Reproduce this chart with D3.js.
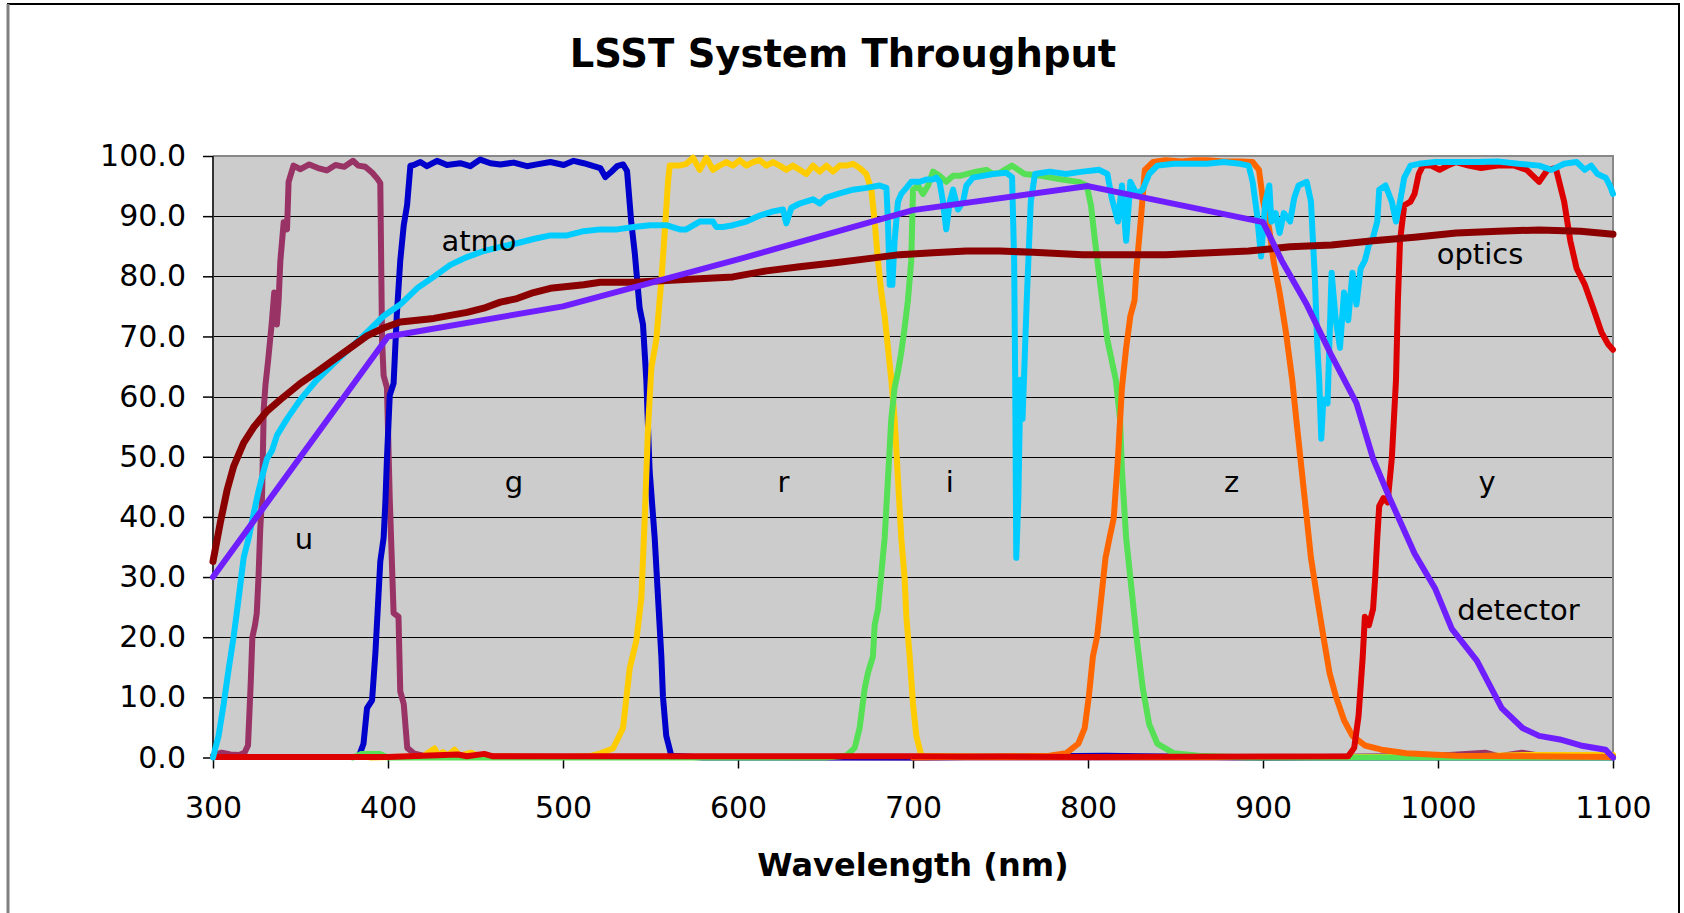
<!DOCTYPE html>
<html>
<head>
<meta charset="utf-8">
<script src="https://cdn.jsdelivr.net/npm/d3@7"></script>
<style>
  body { margin: 0; background: #fff; }
  svg { display: block; font-family: "DejaVu Sans", Verdana, sans-serif; }
  .grid line { stroke: #000; stroke-width: 1; shape-rendering: crispEdges; }
  .grid path { display: none; }
  .axis path { display: none; }
  .axis line { stroke: #000; stroke-width: 1.5; }
  .axis text { font-family: "DejaVu Sans", Verdana, sans-serif; font-size: 30px; fill: #000; }
  .band { fill: none; stroke-linejoin: round; stroke-linecap: round; }
  .label { font-size: 29px; fill: #000; text-anchor: middle; }
</style>
</head>
<body>
<svg width="1684" height="913"></svg>
<script>
// wavelength (nm), throughput (%)
const uBand = [[300,0.3],[305,0.8],[310,0.5],[315,0.4],[318,0.8],[320,2],[321.5,12],[322.5,20],[324,22],[325,24],[326,30],[327,38],[328,43],[329,58],[330,62],[331.5,66],[333.5,72],[335,77.3],[336.5,72],[337.5,76],[338.5,82.6],[340.4,89],[342.3,87.8],[343.2,95.7],[346,98.4],[350,97.8],[355,98.6],[360,98],[365,97.6],[370,98.5],[375,98.2],[380,99.2],[383,98.4],[387,98.2],[391,97.2],[394,96.2],[395.6,95.5],[396.6,69.4],[397.5,63.5],[399.4,61.5],[401,43],[403.2,24],[406,23.4],[407,11],[409,8.9],[411,1.6],[414.7,0.7],[420,0.3],[440,0.2],[500,0.1],[600,0.1],[700,0],[900,0],[1000,0.3],[1027,0.8],[1035,0.2],[1048,0.8],[1060,0.2],[1100,0.1]];
const gBand = [[384,0.7],[386,2.3],[388,8.2],[390.9,9.5],[392.8,17.4],[395.6,32.6],[397.5,36.5],[398.5,42.4],[399.4,49.7],[401,60.2],[403.2,62.2],[405,73.4],[407,82.6],[409,88.5],[410.9,91.8],[412.8,98.4],[414.7,98.5],[418.5,99.0],[422.3,98.3],[428,99.2],[433.7,98.5],[441.3,98.8],[447,98.3],[452.7,99.4],[458.5,98.8],[464.2,98.6],[471.8,98.9],[479.4,98.3],[485.1,98.6],[492.8,99.0],[500.4,98.5],[506.1,99.2],[511.8,98.8],[517.5,98.3],[521.3,98.0],[524.2,96.5],[527,97.2],[530.9,98.3],[534.3,98.6],[536.6,97.5],[539,89],[541,83.9],[543.8,74.7],[545.7,72],[547.6,62.8],[549.5,47.7],[552.4,36.5],[554.3,26.6],[556.2,16.8],[557.1,10.2],[559,3.6],[561.9,0.3],[580,0],[700,0],[810,0.3],[830,0.2],[900,0],[1100,0]];
const rBand = [[390,0],[420,0.2],[426.6,1.5],[429,0.3],[431.4,0.9],[434,0.3],[438,1.3],[441,0.3],[447.6,0.8],[452,0.2],[500,0.1],[515,0.2],[521.3,0.7],[528.6,1.5],[534.3,4.9],[538.1,14.8],[541.9,19.4],[544.8,26.6],[546.7,39.8],[548.6,54.9],[550.5,64.8],[553.3,69.4],[555.2,76],[556.2,79.3],[558.1,87.2],[560,95.7],[561,98.4],[562.9,98.4],[566.7,98.4],[570.5,98.7],[574.3,99.7],[578.1,97.7],[581.9,99.7],[585.7,97.7],[589.5,98.4],[593.3,99.0],[597.1,98.4],[601,99.3],[604.8,98.4],[608.6,99.0],[612.4,99.3],[616.2,98.4],[620,99.0],[623.8,98.4],[627.6,97.7],[631.4,98.4],[635.2,97.7],[639,97.0],[642.9,98.4],[646.7,97.4],[650.5,98.4],[654.3,97.4],[658.1,98.4],[661.9,98.4],[665.7,98.7],[669.5,98],[673.3,97],[676.2,94.4],[678.1,89.1],[680,82.6],[681.9,77.3],[683.8,73.4],[685.7,68.1],[687.6,62.8],[689.5,56.3],[691.4,46.4],[693.3,36.5],[695.2,29.9],[696.2,23.4],[698.1,16.8],[700,8.9],[701.9,3.6],[704.8,0.3],[750,0.1],[1000,0.1],[1050,0.4],[1100,0.4]];
const iBand = [[380,0],[385,0.6],[395,0.6],[400,0],[650,0],[661.9,0.3],[666.7,1.6],[669.5,4.9],[672.4,11.5],[674.3,14.1],[677.1,16.8],[678.1,22],[680,24.7],[681.9,30.6],[683.8,36.5],[685.7,46.4],[687.6,56.3],[689.5,61.5],[691.4,64.1],[693.3,67.4],[695.2,71.4],[697.1,76],[699,82.6],[700,94.4],[702.9,95.1],[705.7,93.7],[708.6,95.1],[711.4,97.4],[715.2,96.7],[719,95.7],[722.9,96.7],[726.7,96.7],[730.5,97.0],[736.2,97.4],[741.9,97.7],[745.7,97.0],[749.5,97.2],[756.6,98.4],[763.7,97.0],[773.2,96.7],[785.1,96.1],[794.5,95.7],[799.3,95.1],[801.7,91.8],[804,85.9],[807.6,77.3],[811.1,69.4],[815.9,62.8],[818.3,56.3],[819.4,47.7],[821.8,36.5],[824.2,29.9],[827.7,20.1],[831.3,11.5],[834.9,5.6],[839.6,2.3],[849.1,0.7],[863.3,0.3],[891.8,0],[1100,0]];
const zBand = [[700,0],[778,0.3],[787.4,0.7],[794.5,2.3],[798.1,4.9],[800.5,10.2],[802.8,16.8],[805.2,20.1],[807.6,26.6],[810,33.2],[812.3,36.5],[814.7,39.8],[817.1,49.7],[819.4,61.5],[821.8,68.1],[824.2,73.4],[826.6,76],[827.7,81.3],[830.1,89.1],[832.5,97.7],[837.2,99.0],[844.3,99.3],[853.8,99.1],[860.9,99.3],[868.1,99.3],[877.5,99.1],[887,99.1],[894.1,99.0],[897.7,97.7],[900.1,92.4],[903.6,87.8],[906,82.6],[909.5,77.3],[913.1,70.7],[916.7,62.8],[919,56.3],[922.6,46.4],[925,39.8],[927.4,33.2],[930.9,26.6],[934.5,20.1],[938,14.1],[941.6,10.2],[946.3,6.2],[951.1,3.6],[958.2,2.0],[967.7,1.3],[981.9,0.7],[1010.4,0.3],[1100,0.1]];
const yBand = [[300,0.1],[400,0.1],[440,0.5],[445,0.2],[455,0.6],[460,0.2],[500,0.2],[700,0.2],[800,0.1],[948.7,0.2],[952.1,1.6],[954.6,6.9],[957,16.8],[958.2,23.4],[960.5,22],[962.9,24.7],[964.1,29.9],[965.3,36.5],[966.4,41.8],[968.8,43.1],[971.2,42.4],[973.6,49.7],[976,62.8],[977.1,76],[978.3,85.9],[980.7,91.8],[984.3,92.4],[986.6,93.7],[989,97],[991.4,98.4],[996.1,98.4],[1000.9,97.7],[1005.6,98.4],[1010.3,99],[1017.5,98.4],[1024.6,98],[1034.1,98.4],[1043.6,98.4],[1050.7,97.7],[1057.8,95.7],[1062.6,97.7],[1067.3,98],[1072.1,92.4],[1075.6,85.9],[1079.2,81.3],[1083.9,78.6],[1088.7,74.7],[1093.4,70.7],[1097,68.8],[1100,67.8]];
const atmo = [[300,0],[303.2,3.6],[306.1,8.9],[309,14.8],[311.8,20.1],[314.7,26.6],[317.5,33.2],[320.4,36.5],[323.2,40.5],[326.1,44.4],[329,47.7],[330.9,49.7],[333.7,51],[336.6,53.6],[342.3,56.3],[349.9,59.5],[359.4,62.8],[368.9,65.5],[378.5,68.1],[388,70.7],[397.5,73.4],[407,75.3],[416.6,78],[426.1,79.9],[435.6,81.9],[445.1,83.2],[454.7,84.2],[464.2,84.9],[473.7,85.5],[483.2,86.2],[492.8,86.8],[502.3,86.8],[511.8,87.5],[521.3,87.8],[530.9,87.8],[540.4,88.2],[549.9,88.5],[559,88.5],[566.7,87.8],[570.5,87.8],[578.1,89.1],[585.7,89.1],[587.6,88.2],[591.4,88.2],[597.1,88.5],[604.8,89.1],[612.4,90.1],[620,90.8],[625.7,91.1],[627.6,88.8],[630.5,91.4],[635.2,92.1],[642.9,92.8],[646.7,92.1],[650.5,93.1],[658.1,93.8],[665.7,94.4],[673.3,94.7],[680.9,95.1],[684.8,94.7],[685.7,89.1],[686.7,78.6],[688.2,78.6],[689.5,85.9],[691.4,92.4],[693.3,93.7],[696.2,94.7],[699,95.7],[703.8,95.7],[707.6,96.1],[711.4,96.1],[713.3,96.4],[715.2,95.7],[717.1,92.4],[719,87.8],[721,92.4],[722.9,94.4],[725.7,91.1],[728.6,92.4],[730.5,95.1],[734.3,96.4],[740,96.7],[745.7,97.0],[753.3,97.2],[756.6,96.5],[757.8,82.6],[758.4,62.8],[759,33.2],[760.2,43.1],[761.4,62.8],[762.6,56.3],[765,76],[767.3,92.4],[769.7,97.0],[778,97.4],[787.4,97],[797,97.4],[806.4,97.7],[811.1,97],[813.5,93.1],[817.1,89.1],[819.4,95.1],[821.8,85.9],[824.2,95.7],[827.7,93.7],[831.3,94.4],[834.9,97],[839.6,98.4],[849.1,98.7],[858.6,98.7],[868.1,98.7],[877.5,99],[887,98.7],[891.8,98.4],[894.1,95.7],[896.5,90.5],[898.9,83.3],[901.3,92.4],[903.6,95.1],[904.8,89.1],[907.2,90.5],[909.5,87.2],[911.9,90.5],[915.5,89.1],[917.9,93.1],[920.3,95.1],[925,95.7],[927.4,92.4],[929.7,79.3],[930.9,69.4],[932.1,62.8],[933.3,53],[934.5,59.5],[936.9,58.9],[939.2,80.6],[941.6,72.7],[944,68.1],[946.3,77.3],[948.7,72.7],[951.1,80.6],[953.4,75.3],[955.8,81.3],[958.2,82.6],[960.5,85.2],[962.9,86.5],[965.3,89.1],[966.4,94.4],[970,95.1],[973.6,92.4],[976,89.1],[978.3,92.4],[980.7,96.4],[984.3,98.4],[989,98.7],[998.5,99],[1010.4,99],[1022.2,99],[1034.1,99.1],[1045.9,98.7],[1057.8,98.4],[1064.9,97.7],[1072.1,98.7],[1079.2,99],[1083.9,97.7],[1087.5,98.4],[1091.1,97],[1095.8,96.4],[1098.2,95.1],[1100,93.7]];
const optics = [[300,32.6],[304.2,39.1],[308,44.4],[311.8,48.4],[317.5,52.3],[323.2,54.9],[330.9,57.6],[338.5,59.5],[349.9,62.2],[359.4,64.1],[368.9,66.1],[378.5,68.1],[388,70.1],[397.5,71.4],[407,72.4],[416.6,72.7],[426.1,73],[445.1,74],[454.7,74.7],[464.2,75.7],[473.7,76.3],[483.2,77.3],[492.8,78],[502.3,78.3],[511.8,78.6],[521.3,79],[540.4,79],[559,79.3],[578,79.6],[597.1,79.9],[616.2,80.9],[635.2,81.6],[654.3,82.2],[673.3,82.9],[692.4,83.6],[711.4,83.9],[730.5,84.2],[749.5,84.2],[768.6,84],[796.9,83.6],[844.3,83.6],[891.8,84.2],[915.5,84.9],[939.2,85.2],[962.9,85.9],[986.6,86.5],[1010.4,87.2],[1034.1,87.5],[1057.8,87.7],[1081.5,87.5],[1100,87]];
const detector = [[300,30],[400,70],[500,75],[600,82.8],[700,91],[800,95],[900,89],[910.7,82.6],[925,75.3],[939.2,66.8],[953.4,58.9],[962.9,49.7],[972.4,43.1],[986.6,33.9],[998.5,28],[1007.9,21.4],[1022.2,16.1],[1036.4,8.2],[1048.3,4.9],[1057.8,3.6],[1069.6,3],[1081.5,2],[1095.7,1.3],[1100,0]];

const xTicks = [300, 400, 500, 600, 700, 800, 900, 1000, 1100];
const yTicks = [0, 10, 20, 30, 40, 50, 60, 70, 80, 90, 100];

// drawing order matters: filters first, then atmo, optics, detector on top
const series = [
  {data: uBand, color: '#993366'},
  {data: gBand, color: '#0000cc'},
  {data: rBand, color: '#ffcc00'},
  {data: iBand, color: '#55e055'},
  {data: zBand, color: '#ff6600'},
  {data: yBand, color: '#dd0000'},
  {data: atmo, color: '#00ccff'},
  {data: optics, color: '#8b0000', w: '7px'},
  {data: detector, color: '#6f1fff'}
];

// curve names placed in data coords [wavelength, throughput at baseline]
const labels = [
  {text: 'atmo', at: [452, 84.2]},
  {text: 'u', at: [352, 34.6]},
  {text: 'g', at: [472, 44.2]},
  {text: 'r', at: [626, 44.2]},
  {text: 'i', at: [721, 44.2]},
  {text: 'z', at: [882, 44.2]},
  {text: 'y', at: [1028, 44.2]},
  {text: 'optics', at: [1024, 82]},
  {text: 'detector', at: [1046, 22.9]}
];

const svg = d3.select('svg');
const marginLeft = 213, marginTop = 156;
const width = 1400, height = 601.5;

// outer frame
svg.append('rect')
  .attr('x', 8).attr('y', 4)
  .attr('width', 1671).attr('height', 940)
  .attr('fill', 'none')
  .attr('stroke', '#000')
  .attr('stroke-width', 2);
svg.append('line')
  .attr('x1', 8).attr('x2', 8).attr('y1', 4).attr('y2', 913)
  .attr('stroke', '#808080').attr('stroke-width', 3);

svg.append('text')
  .attr('x', 843).attr('y', 67)
  .attr('text-anchor', 'middle')
  .style('font-size', '38.5px').style('font-weight', 'bold')
  .text('LSST System Throughput');

const chart = svg.append('g')
  .attr('transform', `translate(${marginLeft}, ${marginTop})`);

const x = d3.scaleLinear().domain([300, 1100]).range([0, width]);
const y = d3.scaleLinear().domain([0, 100]).range([height, 0]);

chart.append('rect')
  .attr('width', width).attr('height', height)
  .attr('fill', '#cccccc');

chart.append('g')
  .attr('class', 'grid')
  .call(d3.axisLeft(y).tickValues(yTicks).tickSize(-width).tickFormat(''));

// plot border
chart.append('path')
  .attr('d', `M0,0H${width}V${height}`)
  .attr('fill', 'none')
  .attr('stroke', '#888')
  .attr('stroke-width', 2);
chart.append('line')
  .attr('x1', 0).attr('x2', width).attr('y1', height).attr('y2', height)
  .attr('stroke', '#555').attr('stroke-width', 2);
chart.append('line')
  .attr('x1', 0).attr('x2', 0).attr('y1', 0).attr('y2', height)
  .attr('stroke', '#333').attr('stroke-width', 2);

chart.append('g')
  .attr('class', 'axis')
  .call(d3.axisLeft(y).tickValues(yTicks).tickSize(10).tickPadding(17)
    .tickFormat((d) => d.toFixed(1)));

chart.append('g')
  .attr('class', 'axis')
  .attr('transform', `translate(0, ${height})`)
  .call(d3.axisBottom(x).tickValues(xTicks).tickSize(11).tickPadding(28)
    .tickFormat(d3.format('d')));

const line = d3.line()
  .x((d) => x(d[0]))
  .y((d) => y(d[1]));

chart.selectAll('.band')
  .data(series)
  .enter()
  .append('path')
  .attr('class', 'band')
  .style('stroke', (s) => s.color)
  .style('stroke-width', (s) => s.w || '6px')
  .attr('d', (s) => line(s.data));

chart.selectAll('.label')
  .data(labels)
  .enter()
  .append('text')
  .attr('class', 'label')
  .attr('x', (l) => x(l.at[0]))
  .attr('y', (l) => y(l.at[1]))
  .text((l) => l.text);

svg.append('text')
  .attr('x', marginLeft + width / 2).attr('y', 876)
  .attr('text-anchor', 'middle')
  .style('font-size', '32px').style('font-weight', 'bold')
  .text('Wavelength (nm)');
</script>
</body>
</html>
